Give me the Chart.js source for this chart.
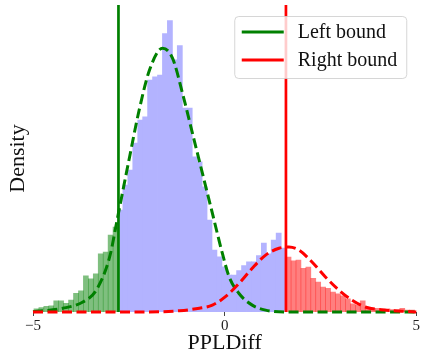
<!DOCTYPE html>
<html><head><meta charset="utf-8">
<script src="https://cdn.jsdelivr.net/npm/chart.js@4.4.1/dist/chart.umd.min.js"></script>
<style>html,body{margin:0;padding:0;background:#fff}#wrap{width:421px;height:357px}</style>
</head><body><div id="wrap"><canvas id="c" width="421" height="357"></canvas></div>
<script>
// ---- data ----
const binStart = -4.975;   // left edge of first histogram bin
const binWidth = 0.129;    // histogram bin width
const leftHeights = [0.005,0.007,0.009,0.010,0.018,0.018,0.014,0.019,0.030,0.034,0.058,0.053,0.061,0.093,0.096,0.123,0.136];
const middleHeights = [0.163,0.203,0.227,0.270,0.307,0.312,0.371,0.376,0.379,0.445,0.466,0.403,0.426,0.326,0.326,0.248,0.240,0.200,0.147,0.099,0.088,0.072,0.059,0.059,0.066,0.074,0.080,0.080,0.090,0.110,0.093,0.115,0.126,0.102];
const rightHeights = [0.088,0.082,0.083,0.070,0.072,0.054,0.048,0.040,0.038,0.032,0.029,0.026,0.021,0.013,0.011,0.018,0.008,0.006,0.006,0.005,0.005,0.004,0.004,0.006,0.003,0.003];
const leftBound = -2.77;
const rightBound = 1.60;
const leftCurveX = [-5.0,-4.22,-3.70,-3.35,-3.00,-2.79,-2.48,-2.23,-1.96,-1.62,-1.36,-1.10,-0.84,-0.58,-0.32,-0.06,0.12,0.37,0.72,1.07,1.59,5.0];
const leftCurveY = [0.0005,0.006,0.016,0.035,0.088,0.152,0.248,0.323,0.387,0.422,0.406,0.350,0.286,0.222,0.158,0.094,0.056,0.030,0.011,0.003,0.0,0.0];
const rightCurveX = [-5.0,-1.96,-1.18,-0.66,-0.32,0.03,0.38,0.72,1.07,1.42,1.68,1.94,2.28,2.63,2.98,3.32,3.67,4.19,4.89,5.0];
const rightCurveY = [0.0,0.0,0.002,0.006,0.011,0.025,0.046,0.070,0.091,0.102,0.104,0.099,0.080,0.056,0.035,0.019,0.008,0.003,0.0005,0.0];
const xTicks = [-5, 0, 5];
const legendLabels = ['Left bound', 'Right bound'];
const xTitle = 'PPLDiff';
const yTitle = 'Density';
const yMax = 0.491;

// ---- build ----
const FAM = '"Liberation Serif", "DejaVu Serif", serif';
const bars = (arr, offset) => arr.map((h, i) => ({x: binStart + binWidth * (offset + i + 0.5), y: h}));
const pts = (xs, ys) => xs.map((x, i) => ({x, y: ys[i]}));
const barCommon = {type: 'bar', grouped: false, barPercentage: 1, categoryPercentage: 1, borderWidth: 0, order: 10};

const legendPlugin = {
  id: 'boxLegend',
  afterDraw(chart) {
    const ctx = chart.ctx, ca = chart.chartArea;
    const bw = 172, bh = 62;
    const bx = ca.right - 10 - bw + 0.5, by = ca.top + 11 + 0.5;
    ctx.save();
    ctx.beginPath();
    ctx.roundRect(bx, by, bw, bh, 4);
    ctx.fillStyle = 'rgba(255,255,255,0.8)';
    ctx.fill();
    ctx.strokeStyle = 'rgba(204,204,204,0.8)';
    ctx.lineWidth = 1;
    ctx.stroke();
    const colors = ['green', 'red'];
    legendLabels.forEach((lab, i) => {
      const y = by + 15.5 + i * 28;
      ctx.beginPath();
      ctx.moveTo(bx + 7, y);
      ctx.lineTo(bx + 49, y);
      ctx.strokeStyle = colors[i];
      ctx.lineWidth = 3;
      ctx.stroke();
      ctx.fillStyle = '#111';
      ctx.font = '20px ' + FAM;
      ctx.textBaseline = 'middle';
      ctx.textAlign = 'left';
      ctx.fillText(lab, bx + 63, y + 1);
    });
    ctx.restore();
  }
};

new Chart(document.getElementById('c'), {
  type: 'bar',
  data: {
    datasets: [
      {...barCommon, data: bars(leftHeights, 0), backgroundColor: 'rgba(0,128,0,0.5)'},
      {...barCommon, data: bars(middleHeights, leftHeights.length), backgroundColor: 'rgb(179,179,255)', inflateAmount: 0.4},
      {...barCommon, data: bars(rightHeights, leftHeights.length + middleHeights.length), backgroundColor: 'rgba(255,0,0,0.5)'},
      {type: 'line', data: pts(leftCurveX, leftCurveY), borderColor: 'green', borderWidth: 3, borderDash: [10, 4.5], pointRadius: 0, cubicInterpolationMode: 'monotone', clip: false, order: 4},
      {type: 'line', data: pts(rightCurveX, rightCurveY), borderColor: 'red', borderWidth: 3, borderDash: [10, 4.5], pointRadius: 0, cubicInterpolationMode: 'monotone', clip: false, order: 3},
      {type: 'line', data: [{x: leftBound, y: 0}, {x: leftBound, y: yMax}], borderColor: 'green', borderWidth: 2.7, pointRadius: 0, clip: false, order: 2},
      {type: 'line', data: [{x: rightBound, y: 0}, {x: rightBound, y: yMax}], borderColor: 'red', borderWidth: 2.7, pointRadius: 0, clip: false, order: 1}
    ]
  },
  options: {
    responsive: false,
    animation: false,
    devicePixelRatio: 1,
    layout: {padding: {top: 5, right: 3, left: 0, bottom: 0}},
    plugins: {legend: {display: false}, tooltip: {enabled: false}},
    scales: {
      x: {
        type: 'linear', min: -5, max: 5, offset: false,
        grid: {display: true, drawOnChartArea: false, drawTicks: true, tickLength: 4, tickWidth: 1, tickColor: '#444', offset: false},
        border: {display: false},
        afterBuildTicks: s => { s.ticks = xTicks.map(v => ({value: v})); },
        ticks: {font: {family: FAM, size: 15}, color: '#222', padding: 1, maxRotation: 0,
                callback: v => String(v).replace('-', '\u2212')},
        title: {display: true, text: xTitle, font: {family: FAM, size: 22}, color: '#111', padding: {top: 0, bottom: 1}},
        afterFit: s => { s.height = 45; }
      },
      y: {
        min: 0, max: yMax,
        grid: {display: false}, border: {display: false},
        ticks: {display: false},
        title: {display: true, text: yTitle, font: {family: FAM, size: 22}, color: '#111', padding: {top: 5, bottom: 0}},
        afterFit: s => { s.width = 33; }
      }
    }
  },
  plugins: [legendPlugin]
});
</script></body></html>
